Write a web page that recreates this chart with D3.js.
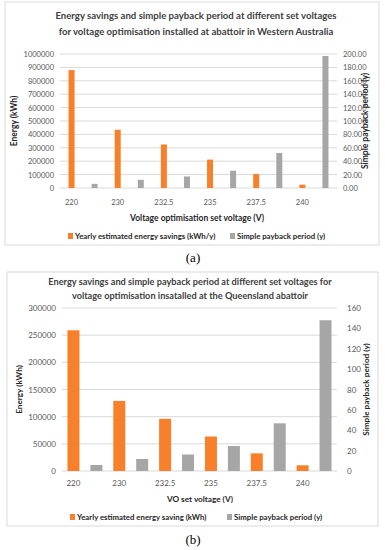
<!DOCTYPE html>
<html>
<head>
  <script src="https://d3js.org/d3.v7.min.js"></script>
  <style>
    body { margin: 0; background: #fff; }
    text { font-family: Lato, "Open Sans", sans-serif; }
  </style>
</head>
<body>
  <script>
    // categories
    const voltages = ["220", "230", "232.5", "235", "237.5", "240"];

    // chart (a) Western Australia
    const savingsA = [880000, 435000, 325000, 212000, 105000, 25000];
    const paybackA = [6.2, 12.2, 17.2, 25.8, 52.2, 197];
    const energyTicksA = [0, 100000, 200000, 300000, 400000, 500000, 600000, 700000, 800000, 900000, 1000000];
    const paybackTicksA = [0, 20, 40, 60, 80, 100, 120, 140, 160, 180, 200];

    // chart (b) Queensland
    const savingsB = [259000, 129000, 96000, 63500, 32500, 10500];
    const paybackB = [5.9, 11.8, 16.2, 24.5, 46.8, 148];
    const energyTicksB = [0, 50000, 100000, 150000, 200000, 250000, 300000];
    const paybackTicksB = [0, 20, 40, 60, 80, 100, 120, 140, 160];

    const orange = "#f8802b";
    const grey = "#a6a6a6";
    const textCol = "#595959";
    const titleCol = "#404040";

    const svg = d3.select("body").append("svg")
      .attr("width", 385)
      .attr("height", 550);

    function drawChart(o) {
      const g = svg.append("g");

      // frame
      g.append("rect")
        .attr("x", o.box[0]).attr("y", o.box[1])
        .attr("width", o.box[2] - o.box[0]).attr("height", o.box[3] - o.box[1])
        .attr("fill", "#fff").attr("stroke", "#d9d9d9");

      const x = d3.scaleBand().domain(voltages).range([o.left, o.right]);
      const yL = d3.scaleLinear().domain([0, o.energyTicks[o.energyTicks.length - 1]]).range([o.bottom, o.top]);
      const yR = d3.scaleLinear().domain([0, o.paybackTicks[o.paybackTicks.length - 1]]).range([o.bottom, o.top]);

      // gridlines
      g.selectAll(".grid").data(o.energyTicks).enter().append("line")
        .attr("x1", o.left).attr("x2", o.right)
        .attr("y1", d => yL(d)).attr("y2", d => yL(d))
        .attr("stroke", "#d9d9d9").attr("stroke-width", 1);

      // left axis
      const axL = g.append("g").attr("transform", `translate(${o.left},0)`)
        .call(d3.axisLeft(yL).tickValues(o.energyTicks).tickSize(0).tickPadding(6).tickFormat(d3.format("d")));
      axL.select(".domain").remove();
      axL.selectAll("text").attr("fill", textCol).style("font-size", o.tickSize + "px").style("font-family", "Lato");

      // right axis
      const axR = g.append("g").attr("transform", `translate(${o.right},0)`)
        .call(d3.axisRight(yR).tickValues(o.paybackTicks).tickSize(0).tickPadding(o.rPad).tickFormat(d3.format(o.rFmt)));
      axR.select(".domain").remove();
      axR.selectAll("text").attr("fill", textCol).style("font-size", o.tickSize + "px").style("font-family", "Lato");

      // bars
      g.selectAll(".sav").data(voltages).enter().append("rect")
        .attr("x", (d) => x(d) + x.bandwidth() * 0.25 - o.barW / 2)
        .attr("width", o.barW)
        .attr("y", (d, i) => yL(o.savings[i]))
        .attr("height", (d, i) => o.bottom - yL(o.savings[i]))
        .attr("fill", orange);
      g.selectAll(".pay").data(voltages).enter().append("rect")
        .attr("x", (d) => x(d) + x.bandwidth() * 0.75 - o.barW / 2)
        .attr("width", o.barW)
        .attr("y", (d, i) => yR(o.payback[i]))
        .attr("height", (d, i) => o.bottom - yR(o.payback[i]))
        .attr("fill", grey);

      // category labels (sit under the orange bars)
      g.selectAll(".cat").data(voltages).enter().append("text")
        .attr("x", d => x(d) + x.bandwidth() * 0.25)
        .attr("y", o.catY)
        .attr("text-anchor", "middle")
        .attr("fill", textCol)
        .style("font-size", o.tickSize + "px")
        .text(d => d);

      // title
      o.title.forEach((t, i) => {
        g.append("text")
          .attr("x", o.titleX).attr("y", o.titleY + i * o.titleGap)
          .attr("text-anchor", "middle")
          .attr("fill", titleCol)
          .style("font-size", o.titleSize + "px").style("font-weight", "bold")
          .text(t);
      });

      // axis titles
      g.append("text")
        .attr("transform", `translate(${o.lTitleX},${(o.top + o.bottom) / 2}) rotate(-90)`)
        .attr("text-anchor", "middle").attr("fill", "#262626")
        .style("font-size", o.axSize + "px").style("font-weight", "bold")
        .text(o.leftTitle);
      g.append("text")
        .attr("transform", `translate(${o.rTitleX},${(o.top + o.bottom) / 2}) rotate(-90)`)
        .attr("text-anchor", "middle").attr("fill", "#262626")
        .style("font-size", o.axSize + "px").style("font-weight", "bold")
        .text("Simple payback period (y)");
      g.append("text")
        .attr("x", o.xTitleX).attr("y", o.xTitleY)
        .attr("text-anchor", "middle").attr("fill", "#262626")
        .style("font-size", o.axSize + "px").style("font-weight", "bold")
        .text(o.xTitle);

      // legend
      const leg = [[o.legend[0], orange, o.legX[0]], [o.legend[1], grey, o.legX[1]]];
      leg.forEach(([label, col, lx]) => {
        g.append("rect").attr("x", lx).attr("y", o.legY - 6).attr("width", 5).attr("height", 6).attr("fill", col);
        g.append("text").attr("x", lx + 7).attr("y", o.legY)
          .attr("fill", "#262626")
          .style("font-size", o.legSize + "px").style("font-weight", "bold")
          .text(label);
      });

      // caption
      svg.append("text")
        .attr("x", 193).attr("y", o.capY)
        .attr("text-anchor", "middle").attr("fill", "#000")
        .style("font-family", "'Liberation Serif', serif").style("font-size", "13px")
        .text(o.caption);
    }

    drawChart({
      box: [5, 2, 379, 245],
      left: 60, right: 337, top: 54, bottom: 188,
      savings: savingsA, payback: paybackA,
      energyTicks: energyTicksA, paybackTicks: paybackTicksA,
      rFmt: ".2f", rPad: 6, tickSize: 7.5, barW: 6,
      catY: 205,
      title: ["Energy savings and simple payback period at different set voltages",
              "for voltage optimisation  installed at abattoir in Western Australia"],
      titleX: 196, titleY: 19, titleGap: 16, titleSize: 9.6,
      leftTitle: "Energy (kWh)", lTitleX: 17, rTitleX: 368, axSize: 8.5,
      xTitle: "Voltage optimisation  set voltage (V)", xTitleX: 197, xTitleY: 221,
      legend: ["Yearly estimated energy savings (kWh/y)", "Simple payback period (y)"],
      legX: [68, 230], legY: 239, legSize: 7.8,
      caption: "(a)", capY: 262
    });

    drawChart({
      box: [7, 272, 378, 526],
      left: 62, right: 337, top: 308, bottom: 471,
      savings: savingsB, payback: paybackB,
      energyTicks: energyTicksB, paybackTicks: paybackTicksB,
      rFmt: "d", rPad: 10, tickSize: 8, barW: 12,
      catY: 486,
      title: ["Energy savings and simple payback period at different set voltages for",
              "voltage optimisation insatalled at the Queensland abattoir"],
      titleX: 190, titleY: 285, titleGap: 13.5, titleSize: 9.2,
      leftTitle: "Energy  (kWh)", lTitleX: 22, rTitleX: 369, axSize: 8.2,
      xTitle: "VO set voltage (V)", xTitleX: 200, xTitleY: 502,
      legend: ["Yearly estimated energy saving (kWh)", "Simple payback period (y)"],
      legX: [70, 227], legY: 520, legSize: 7.8,
      caption: "(b)", capY: 544
    });
  </script>
</body>
</html>
